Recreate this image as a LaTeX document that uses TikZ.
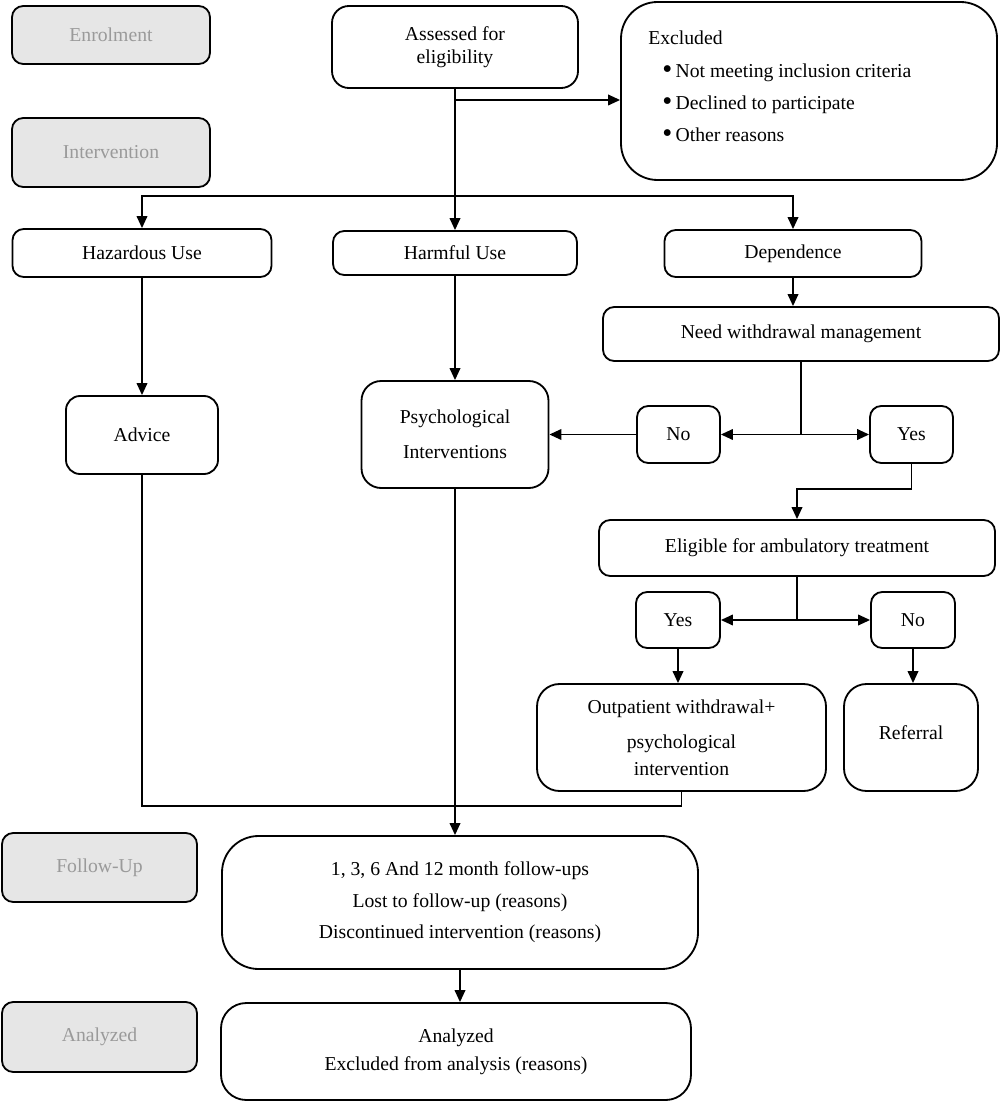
\documentclass[tikz,border=0pt]{standalone}
\usepackage{fontspec}
\setmainfont{Liberation Serif}
\usetikzlibrary{arrows.meta,calc}
\definecolor{lblfill}{HTML}{E6E6E6}
\definecolor{lbltext}{HTML}{9A9A9A}
\newcommand{\bigbul}{\raisebox{-0.6pt}{\scalebox{1.45}{\textbullet}}}
\begin{document}
\begin{tikzpicture}[x=0.025cm,y=-0.025cm,
  every node/.style={font=\fontsize{14pt}{16.6pt}\selectfont},
  wh/.style 2 args={minimum width=#1*0.025cm, minimum height=#2*0.025cm},
  box/.style={draw, line width=1.3pt, rounded corners=8pt, inner sep=0pt, align=center},
  lbl/.style={box, fill=lblfill, text=lbltext},
  conn/.style={line width=1.3pt},
  arr/.style={conn, -{Triangle[length=8.5pt,width=7.5pt]}}]
\useasboundingbox (0,0) rectangle (1000,1102);
% stage labels
\node[lbl, wh={198}{58}] (enrol) at (111,35) {Enrolment};
\node[lbl, wh={198}{69}] (interv) at (111,152.5) {Intervention};
\node[lbl, wh={195}{69}] (fulbl) at (99.5,867.5) {Follow-Up};
\node[lbl, wh={195}{70}] (analbl) at (99.5,1037) {Analyzed};
% main boxes
\node[box, rounded corners=12pt, wh={246}{82}] (assess) at (455,47) {Assessed for\\eligibility};
\node[box, rounded corners=26pt, wh={376}{178}] (excl) at (809,91) {};
\node[anchor=north west, inner sep=0pt, align=left] (excltext) at (648,31)
  {Excluded\\[6.4pt]
   \hspace*{10pt}\bigbul\,Not meeting inclusion criteria\\[6.4pt]
   \hspace*{10pt}\bigbul\,Declined to participate\\[6.4pt]
   \hspace*{10pt}\bigbul\,Other reasons};
\node[box, wh={259}{48}] (hazard) at (142,253) {Hazardous Use};
\node[box, wh={244}{44}] (harm) at (455,253) {Harmful Use};
\node[box, wh={257}{47}] (dep) at (793,253.5) {Dependence};
\node[box, wh={396}{54}] (need) at (801,334) {Need withdrawal management};
\node[box, rounded corners=10pt, wh={152}{78}] (advice) at (142,435) {Advice};
\node[box, rounded corners=14pt, wh={187}{107}] (psych) at (455,434.5) {Psychological\\[8.3pt]Interventions};
\node[box, wh={83}{57}] (no) at (678.5,434.5) {No};
\node[box, wh={83}{57}] (yes) at (911.5,434.5) {Yes};
\node[box, wh={396}{56}] (elig) at (797,548) {Eligible for ambulatory treatment};
\node[box, wh={84}{56}] (yes2) at (678,620) {Yes};
\node[box, wh={84}{56}] (no2) at (913,620) {No};
\node[box, rounded corners=16pt, wh={289}{107}] (outp) at (681.5,737.5) {Outpatient withdrawal+\\[8.3pt]psychological\\[2.6pt]intervention};
\node[box, rounded corners=16pt, wh={134}{107}] (refer) at (911,737.5) {\raisebox{7pt}{Referral}};
\node[box, rounded corners=26pt, wh={476}{133}] (fu) at (460,902.5) {1, 3, 6 And 12 month follow-ups\\[5.8pt]Lost to follow-up (reasons)\\[5.8pt]Discontinued intervention (reasons)};
\node[box, rounded corners=18pt, wh={470}{97}] (ana) at (456,1051.5) {Analyzed\\[3.3pt]Excluded from analysis (reasons)};
% junctions
\coordinate (j1) at (455,100);
\coordinate (j2) at (455,196);
\coordinate (j4) at (797,489);
\coordinate (j6) at (455,806);
\coordinate (j3) at (need.south |- no.east);
\coordinate (j5) at (elig.south |- yes2.east);
% connectors
\draw[conn] (assess.south) -- (j2);
\draw[arr] (j1) -- (j1 -| excl.west);
\draw[arr] (j2) -| (hazard.north);
\draw[arr] (j2) -- (harm.north);
\draw[arr] (j2) -| (dep.north);
\draw[arr] (dep.south) -- (dep.south |- need.north);
\draw[arr] (hazard.south) -- (hazard.south |- advice.north);
\draw[arr] (harm.south) -- (harm.south |- psych.north);
\draw[conn] (need.south) -- (j3);
\draw[arr] (j3) -- (no.east);
\draw[arr] (j3) -- (yes.west);
\draw[arr] (no.west) -- (no.west -| psych.east);
\draw[arr] (yes.south) |- (j4) -- (j4 |- elig.north);
\draw[conn] (elig.south) -- (j5);
\draw[arr] (j5) -- (yes2.east);
\draw[arr] (j5) -- (no2.west);
\draw[arr] (yes2.south) -- (yes2.south |- outp.north);
\draw[arr] (no2.south) -- (no2.south |- refer.north);
\draw[conn] (advice.south) |- (j6) -| (outp.south);
\draw[arr] (psych.south) -- (psych.south |- fu.north);
\draw[arr] (fu.south) -- (fu.south |- ana.north);
\end{tikzpicture}
\end{document}
